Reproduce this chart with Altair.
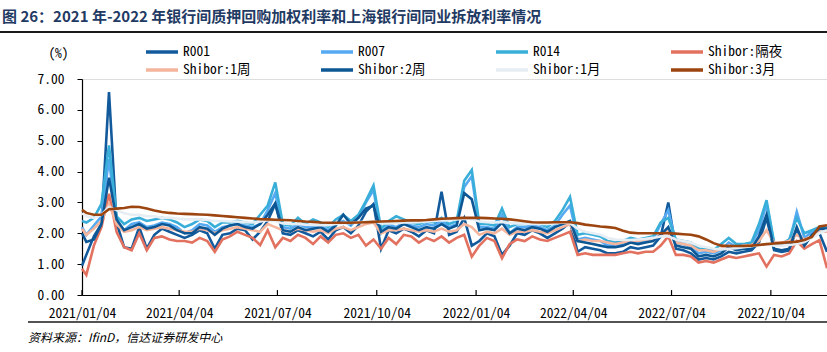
import altair as alt
import pandas as pd

TITLE = "图 26：2021 年-2022 年银行间质押回购加权利率和上海银行间同业拆放利率情况"
SOURCE = "资料来源：IfinD，信达证券研发中心"

# weekly observation dates: first trading day, then Fridays
dates = ["2021-01-04"] + list(pd.date_range("2021-01-08", periods=99, freq="7D").strftime("%Y-%m-%d"))

R001 = [0.95, 1.3, 1.9, 2.3, 6.58, 2.35, 1.55, 1.5, 2.2, 1.5,
        1.95, 2.15, 2.05, 1.95, 1.85, 1.95, 2.1, 2.0, 1.5, 1.95,
        2.0, 2.15, 2.1, 1.8, 2.05, 2.4, 2.95, 2.0, 1.95, 2.1,
        2.0, 1.9, 2.05, 1.8, 2.1, 2.2, 2.0, 2.25, 2.7, 2.95,
        1.5, 2.1, 2.0, 2.15, 2.05, 1.9, 2.1, 2.0, 3.35, 1.95,
        2.05, 2.5, 1.6, 1.75, 2.0, 1.9, 1.3, 1.6, 2.0, 1.95,
        2.1, 2.0, 1.85, 2.0, 2.15, 2.35, 1.4, 1.55, 1.5, 1.45,
        1.35, 1.35, 1.4, 1.55, 1.5, 1.55, 1.6, 1.9, 3.0, 1.5,
        1.45, 1.35, 1.15, 1.2, 1.15, 1.25, 1.4, 1.35, 1.4, 1.45,
        1.7, 2.5, 1.45, 1.4, 1.45, 2.15, 1.6, 1.95, 2.0, 1.4]
R007 = [2.2, 1.95, 2.25, 2.55, 4.4, 2.4, 2.1, 2.3, 2.35, 2.2,
        2.25, 2.35, 2.3, 2.2, 2.0, 2.1, 2.3, 2.25, 2.05, 2.2,
        2.25, 2.3, 2.25, 2.2, 2.3, 2.75, 3.3, 2.2, 2.15, 2.3,
        2.2, 2.2, 2.25, 2.1, 2.3, 2.4, 2.25, 2.5, 3.0, 3.4,
        2.0, 2.3, 2.2, 2.35, 2.25, 2.2, 2.3, 2.25, 2.4, 2.2,
        2.3, 3.5, 3.85, 2.2, 2.2, 2.15, 2.6, 2.0, 2.2, 2.2,
        2.25, 2.2, 2.1, 2.25, 2.6, 2.9, 1.8, 1.85, 1.8, 1.75,
        1.6, 1.6, 1.65, 1.75, 1.7, 1.75, 1.8, 2.3, 2.75, 1.7,
        1.65, 1.55, 1.35, 1.4, 1.35, 1.45, 1.7, 1.55, 1.6, 1.65,
        2.1, 2.95, 1.65, 1.6, 1.7, 2.7, 1.85, 2.05, 2.15, 2.1]
R014 = [2.4, 2.35, 2.5, 2.95, 4.85, 2.55, 2.3, 2.45, 2.5, 2.4,
        2.45, 2.5, 2.45, 2.35, 2.2, 2.3, 2.45, 2.4, 2.2, 2.35,
        2.35, 2.4, 2.35, 2.3, 2.6, 2.9, 3.65, 2.3, 2.25, 2.5,
        2.3, 2.45, 2.35, 2.2, 2.45, 2.6, 2.4, 2.6, 3.05, 3.55,
        2.15, 2.4, 2.55, 2.45, 2.35, 2.3, 2.4, 2.35, 2.5, 2.3,
        2.4, 3.7, 4.05, 2.3, 2.3, 2.25, 2.8, 2.2, 2.3, 2.3,
        2.35, 2.3, 2.2, 2.4, 2.75, 3.18, 1.95, 2.0, 1.95, 1.9,
        1.75, 1.7, 1.75, 1.85, 1.8, 1.85, 1.9, 2.35, 2.5, 1.8,
        1.75, 1.7, 1.5, 1.5, 1.45, 1.65, 1.85, 1.65, 1.65, 1.7,
        2.3, 3.07, 1.7, 1.65, 1.8, 2.5, 2.0, 2.1, 2.2, 2.2]
SHIBOR_ON = [0.85, 0.65, 1.6, 2.2, 3.28, 2.05, 1.55, 1.45, 2.0, 1.45,
             1.85, 1.9, 1.8, 1.75, 1.75, 1.7, 1.85, 1.75, 1.4, 1.8,
             1.9, 2.05, 1.95, 1.85, 1.62, 2.1, 1.55, 1.85, 1.75, 1.95,
             1.85, 1.65, 1.9, 1.7, 1.95, 2.0, 1.85, 1.95, 1.6, 1.8,
             1.5, 1.85, 1.65, 1.95, 1.9, 1.7, 1.85, 1.75, 1.9, 1.7,
             1.85, 1.95, 1.24, 1.6, 1.85, 1.75, 1.19, 1.65, 1.8, 1.75,
             1.9, 1.8, 1.75, 1.85, 1.95, 2.05, 1.3, 1.35, 1.3, 1.3,
             1.3, 1.3, 1.35, 1.4, 1.35, 1.4, 1.4, 1.6, 1.9, 1.3,
             1.3, 1.25, 1.05, 1.1, 1.05, 1.15, 1.25, 1.2, 1.25, 1.3,
             1.35, 0.92, 1.3, 1.25, 1.35, 1.75, 1.5, 1.65, 1.78, 0.87]
SHIBOR_1W = [2.15, 1.95, 2.15, 2.4, 2.95, 2.3, 2.05, 2.1, 2.2, 2.1,
             2.15, 2.2, 2.15, 2.1, 2.05, 2.05, 2.15, 2.1, 2.0, 2.1,
             2.15, 2.2, 2.15, 2.1, 2.05, 2.3, 2.2, 2.1, 2.05, 2.15,
             2.1, 2.05, 2.1, 2.0, 2.15, 2.2, 2.1, 2.2, 2.3, 2.35,
             2.0, 2.1, 2.1, 2.15, 2.1, 2.05, 2.1, 2.05, 2.15, 2.05,
             2.1, 2.3, 2.2, 1.95, 2.05, 2.0, 2.15, 1.95, 2.05, 2.05,
             2.1, 2.05, 2.0, 2.1, 2.2, 2.3, 1.75, 1.8, 1.75, 1.75,
             1.7, 1.65, 1.7, 1.75, 1.75, 1.8, 1.8, 1.95, 2.1, 1.7,
             1.65, 1.6, 1.45, 1.45, 1.4, 1.5, 1.6, 1.55, 1.6, 1.62,
             1.75, 2.1, 1.7, 1.7, 1.75, 1.95, 1.8, 1.9, 2.05, 2.05]
SHIBOR_2W = [2.0, 1.72, 1.8, 2.3, 3.8, 2.45, 2.1, 2.2, 2.3, 2.15,
             2.2, 2.3, 2.25, 2.1, 2.0, 2.0, 2.2, 2.15, 1.95, 2.15,
             2.25, 2.3, 2.2, 2.15, 2.3, 2.6, 2.97, 2.1, 2.05, 2.2,
             2.1, 2.15, 2.2, 2.05, 2.25, 2.6, 2.3, 2.5, 2.8, 2.9,
             2.05, 2.2, 2.15, 2.3, 2.2, 2.1, 2.2, 2.15, 2.3, 2.15,
             2.25, 3.3, 3.1, 2.1, 2.15, 2.1, 2.35, 2.0, 2.15, 2.1,
             2.2, 2.15, 2.05, 2.2, 2.3, 2.4, 1.75, 1.7, 1.65, 1.6,
             1.55, 1.55, 1.6, 1.7, 1.65, 1.7, 1.75, 1.95, 2.2, 1.6,
             1.55, 1.5, 1.25, 1.3, 1.25, 1.35, 1.55, 1.45, 1.5, 1.5,
             1.9, 2.6, 1.5, 1.45, 1.5, 2.2, 1.6, 1.95, 2.15, 2.15]
SHIBOR_1M = [2.65, 2.55, 2.5, 2.6, 2.85, 2.75, 2.65, 2.6, 2.6, 2.55,
             2.55, 2.5, 2.5, 2.48, 2.45, 2.45, 2.45, 2.43, 2.4, 2.4,
             2.38, 2.38, 2.36, 2.35, 2.38, 2.42, 2.4, 2.32, 2.3, 2.3,
             2.28, 2.27, 2.26, 2.26, 2.3, 2.33, 2.33, 2.36, 2.38, 2.4,
             2.32, 2.32, 2.33, 2.35, 2.35, 2.36, 2.38, 2.4, 2.42, 2.42,
             2.45, 2.47, 2.46, 2.38, 2.36, 2.35, 2.37, 2.33, 2.32, 2.31,
             2.3, 2.3, 2.3, 2.32, 2.35, 2.33, 2.15, 2.05, 2.0, 1.95,
             1.85, 1.8, 1.78, 1.78, 1.8, 1.82, 1.85, 1.9, 1.9, 1.8,
             1.75, 1.7, 1.6, 1.55, 1.5, 1.48, 1.5, 1.52, 1.55, 1.58,
             1.62, 1.65, 1.6, 1.6, 1.62, 1.65, 1.72, 1.85, 2.0, 2.1]
SHIBOR_3M = [2.76, 2.66, 2.6, 2.6, 2.78, 2.8, 2.82, 2.86, 2.85, 2.8,
             2.74, 2.69, 2.66, 2.64, 2.63, 2.62, 2.61, 2.6, 2.58, 2.56,
             2.54, 2.52, 2.5, 2.48, 2.46, 2.45, 2.44, 2.43, 2.42, 2.4,
             2.38, 2.37, 2.35, 2.34, 2.34, 2.34, 2.34, 2.35, 2.36, 2.37,
             2.38, 2.39, 2.4, 2.41, 2.42, 2.42, 2.43, 2.45, 2.47, 2.48,
             2.49, 2.5, 2.5, 2.5, 2.49, 2.48, 2.47, 2.45, 2.42, 2.39,
             2.36, 2.35, 2.35, 2.36, 2.36, 2.36, 2.33, 2.28, 2.25, 2.22,
             2.2, 2.17, 2.08, 2.02, 2.0, 2.0, 2.0, 2.0, 2.0, 1.99,
             1.97, 1.95, 1.9, 1.8, 1.68, 1.6, 1.59, 1.59, 1.59, 1.6,
             1.62, 1.65, 1.67, 1.69, 1.71, 1.73, 1.78, 1.88, 2.22, 2.26]

names = ["R001", "R007", "R014", "Shibor:隔夜", "Shibor:1周", "Shibor:2周", "Shibor:1月", "Shibor:3月"]
values = [R001, R007, R014, SHIBOR_ON, SHIBOR_1W, SHIBOR_2W, SHIBOR_1M, SHIBOR_3M]
colors = ["#135a9c", "#55aaf2", "#38aed8", "#e2725f", "#f5b59c", "#0e5795", "#e6edf3", "#9c4510"]

tick_dates = ["2021-01-04", "2021-04-04", "2021-07-04", "2021-10-04",
              "2022-01-04", "2022-04-04", "2022-07-04", "2022-10-04"]
y_ticks = [0, 1, 2, 3, 4, 5, 6, 7]

rows = []
for n, vals in zip(names, values):
    for d, v in zip(dates, vals):
        rows.append({"date": d + "T00:00:00", "series": n, "value": v})
df = pd.DataFrame(rows)

MONO = "Noto Sans Mono CJK SC, Liberation Mono, monospace"

def dt(s):
    y, m, d = s.split("-")
    return alt.DateTime(year=int(y), month=int(m), date=int(d))

xscale = alt.Scale(domain=[dt("2021-01-04"), dt("2022-11-25")])
yscale = alt.Scale(domain=[0, 7], nice=False)

xaxis = alt.Axis(title=None, values=[dt(s) for s in tick_dates], format="%Y/%m/%d",
                 grid=False, tickSize=0, labelPadding=11, labelFont=MONO,
                 labelFontSize=13.5, labelColor="#000000", domainColor="#000000",
                 domainWidth=1.2, labelFlush=False, labelOverlap=False)
yaxis = alt.Axis(title="(%)", titleAngle=0, titleX=-24, titleY=-26, titleAlign="center",
                 titleBaseline="middle", titleFont=MONO, titleFontSize=13.5,
                 titleFontWeight="normal", titleColor="#000000",
                 values=y_ticks, format=".2f", grid=False,
                 tickSize=5, tickColor="#000000", labelPadding=13, labelFont=MONO,
                 labelFontSize=13.5, labelColor="#000000", domainColor="#000000",
                 domainWidth=1.2, labelOverlap=False)

color = alt.Color("series:N", scale=alt.Scale(domain=names, range=colors),
                  legend=alt.Legend(title=None, orient="none", legendX=70, legendY=-37,
                                    direction="horizontal",
                                    columns=4, symbolType="M-2,0H2", symbolSize=256,
                                    symbolStrokeWidth=3.5, labelFont=MONO, labelFontSize=13.5,
                                    labelColor="#000000", labelOffset=11, columnPadding=56,
                                    rowPadding=1, gridAlign="all", labelLimit=200))

base = alt.Chart(df).mark_line(strokeWidth=2.6).encode(
    x=alt.X("date:T", scale=xscale, axis=xaxis),
    y=alt.Y("value:Q", scale=yscale, axis=yaxis),
    color=color,
)

layers = [base.transform_filter(alt.datum.series == n) for n in names]

ticks = alt.Chart(pd.DataFrame({"date": [t + "T00:00:00" for t in tick_dates]})).mark_rule(
    color="#000000", strokeWidth=1.2).encode(
    x=alt.X("date:T", scale=xscale, axis=xaxis),
    y=alt.YDatum(0, scale=yscale, axis=yaxis),
    y2=alt.Y2Datum(0.16))

deco = pd.DataFrame({"t": [TITLE]})
title = alt.Chart(deco).mark_text(align="left", baseline="middle", font="Noto Sans CJK SC",
                                  fontSize=15, fontWeight="bold", color="#1f3a63").encode(
    x=alt.value(-80), y=alt.value(-62), text="t:N")
title_rule = alt.Chart(deco).mark_rule(color="#1a1a1a", strokeWidth=2).encode(
    x=alt.value(-82), x2=alt.value(745), y=alt.value(-47))
src = alt.Chart(pd.DataFrame({"t": [SOURCE]})).mark_text(
    align="left", baseline="middle", font="Noto Sans CJK SC", fontSize=12, fontStyle="italic",
    color="#000000").encode(x=alt.value(-54), y=alt.value(259), text="t:N")
src_rule = alt.Chart(deco).mark_rule(color="#1a1a1a", strokeWidth=1.5).encode(
    x=alt.value(-54), x2=alt.value(745), y=alt.value(243))

chart = alt.layer(*layers, ticks, title, title_rule, src, src_rule).properties(
    width=745, height=216,
    padding={"left": 82, "top": 79, "right": 0, "bottom": 57},
    autosize=alt.AutoSizeParams(type="none"),
).configure_view(stroke=None).configure(background="#ffffff")

chart.save("out.html", embed_options={"renderer": "svg", "actions": False})
